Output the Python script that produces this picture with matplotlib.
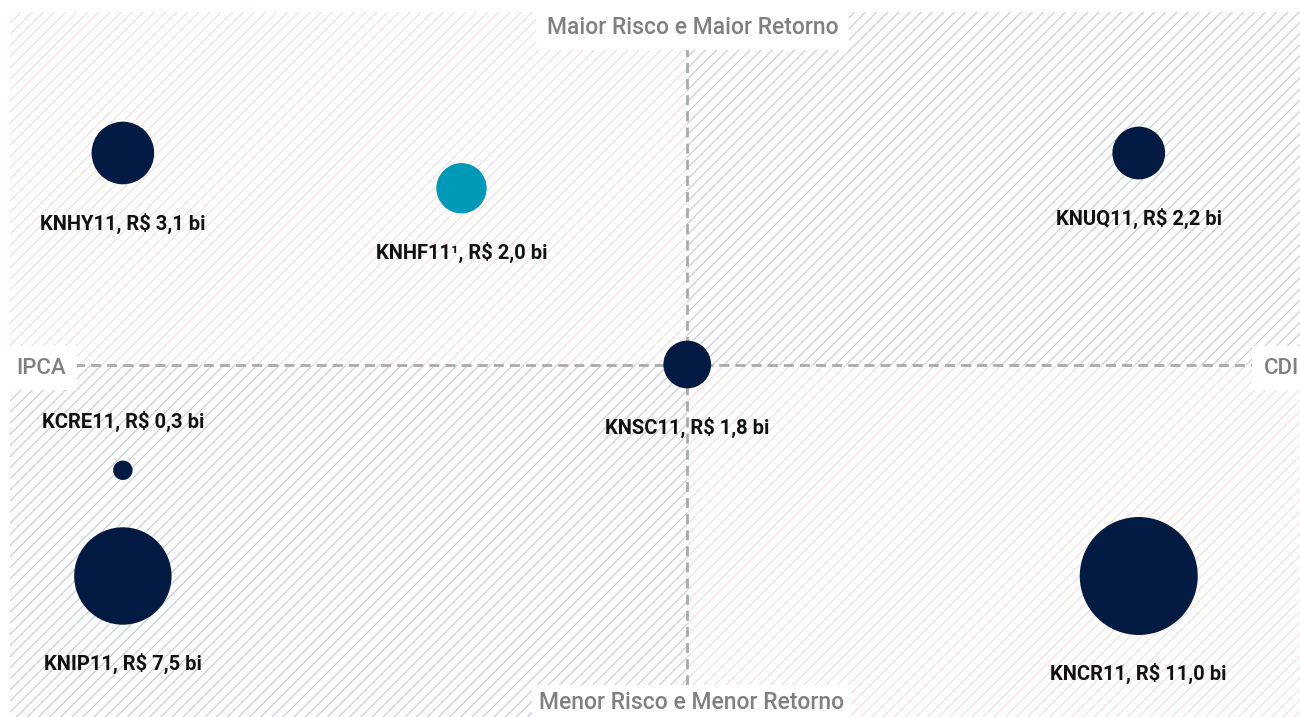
import numpy as np
import matplotlib.pyplot as plt
from matplotlib.patches import Rectangle

# fund data (x = risk axis, y = return axis, size = AUM in R$ bi)
funds = ["KNHY11", "KNHF11¹", "KNUQ11", "KNSC11", "KCRE11", "KNIP11", "KNCR11"]
pos_x = [0.875, 3.5, 8.75, 5.25, 0.875, 0.875, 8.75]
pos_y = [8.0, 7.5, 8.0, 5.0, 3.5, 2.0, 2.0]
aum = [3.1, 2.0, 2.2, 1.8, 0.3, 7.5, 11.0]
label_above = [False, False, False, False, True, False, False]
highlight = [False, True, False, False, False, False, False]

NAVY = "#031b42"
TEAL = "#0099b8"
PINK = "#f3dcdc"
BLUEGRAY = "#c6cad8"
GRAY = "#808080"

plt.rcParams["hatch.linewidth"] = 0.8
plt.rcParams["font.family"] = ["Roboto", "DejaVu Sans"]

fig = plt.figure(figsize=(13, 7.17), dpi=100)
ax = fig.add_axes([10 / 1300, 0, 1290 / 1300, 705 / 717])
ax.set_xlim(0, 10)
ax.set_ylim(0, 10)
ax.axis("off")

cx, cy = 5.25, 5.0
quads = [
    (0, cy, cx, 10 - cy, PINK),
    (cx, cy, 10 - cx, 10 - cy, BLUEGRAY),
    (0, 0, cx, cy, BLUEGRAY),
    (cx, 0, 10 - cx, cy, PINK),
]
for x0, y0, w, h, c in quads:
    ax.add_patch(Rectangle((x0, y0), w, h, facecolor="white", edgecolor=c,
                           hatch="///", linewidth=0, zorder=0))

dash = (0, (3.6, 2.2))
ax.plot([cx, cx], [0, 10], color="#aaaaaa", lw=2, linestyle=dash, zorder=1)
ax.plot([0, 10], [cy, cy], color="#aaaaaa", lw=2, linestyle=dash, zorder=1)

# bubbles: area proportional to AUM
sizes = np.array(aum) * 656
colors = [TEAL if h else NAVY for h in highlight]
ax.scatter(pos_x, pos_y, s=sizes, c=colors, linewidths=0, zorder=3)

for name, x, y, v, s, up in zip(funds, pos_x, pos_y, aum, sizes, label_above):
    r_pt = np.sqrt(s) / 2
    off = r_pt + 28
    txt = "{}, R$ {} bi".format(name, "{:.1f}".format(v).replace(".", ","))
    ax.annotate(txt, (x, y), xytext=(0, off if up else -off),
                textcoords="offset points", ha="center", va="center",
                fontsize=14.5, fontweight="bold", color="#111111", zorder=4)

box = dict(facecolor="white", edgecolor="none", pad=8)
ax.text(cx + 0.04, 9.78, "Maior Risco e Maior Retorno", ha="center", va="center",
        fontsize=16.5, fontweight="medium", color=GRAY, bbox=box, zorder=5)
ax.text(cx + 0.03, 0.2, "Menor Risco e Menor Retorno", ha="center", va="center",
        fontsize=16.5, fontweight="medium", color=GRAY,
        bbox=dict(facecolor="white", edgecolor="none", pad=5), zorder=5)
ax.text(0.05, cy - 0.05, "IPCA", ha="left", va="center",
        fontsize=16, fontweight="medium", color=GRAY, bbox=box, zorder=5)
ax.text(9.99, cy - 0.05, "CDI", ha="right", va="center",
        fontsize=16, fontweight="medium", color=GRAY, bbox=box, zorder=5)

fig.savefig("out.png", dpi=100)
